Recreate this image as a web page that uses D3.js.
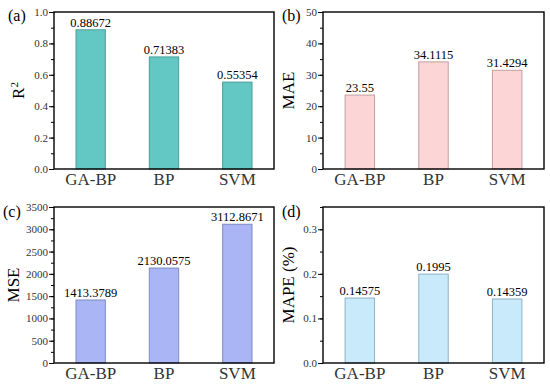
<!DOCTYPE html>
<html>
<head>
    <meta charset="utf-8">
    <style>
        body { margin: 0; background: #fff; }
        text { font-family: "Liberation Serif", "Times New Roman", serif; }
        .tick text { font-size: 11px; fill: #333; }
    </style>
</head>
<body>
    <script src="https://d3js.org/d3.v7.min.js"></script>
    <script>
        // model names and the four error metrics
        var models = ["GA-BP", "BP", "SVM"];
        var r2 = [0.88672, 0.71383, 0.55354];
        var mae = [23.55, 34.1115, 31.4294];
        var mse = [1413.3789, 2130.0575, 3112.8671];
        var mape = [0.14575, 0.1995, 0.14359];

        var r2Labels = ["0.88672", "0.71383", "0.55354"];
        var maeLabels = ["23.55", "34.1115", "31.4294"];
        var mseLabels = ["1413.3789", "2130.0575", "3112.8671"];
        var mapeLabels = ["0.14575", "0.1995", "0.14359"];

        var serif = "Liberation Serif, Times New Roman, serif";

        var svg = d3.select("body").append("svg")
            .attr("width", 550)
            .attr("height", 387);

        function panel(opt) {
            var x = d3.scaleBand().domain(models).range([opt.left, opt.right]);
            var y = d3.scaleLinear().domain([0, opt.max]).range([opt.bottom, opt.top]);
            var g = svg.append("g");

            var bw = x.bandwidth() * 0.4;
            g.selectAll("rect.bar")
                .data(opt.values)
                .enter().append("rect")
                .attr("class", "bar")
                .attr("x", function (d, i) { return x(models[i]) + x.bandwidth() / 2 - bw / 2; })
                .attr("y", function (d) { return y(d); })
                .attr("width", bw)
                .attr("height", function (d) { return opt.bottom - y(d); })
                .attr("fill", opt.fill)
                .attr("stroke", opt.stroke)
                .attr("stroke-width", 1);

            g.selectAll("text.val")
                .data(opt.values)
                .enter().append("text")
                .attr("class", "val")
                .attr("x", function (d, i) { return x(models[i]) + x.bandwidth() / 2; })
                .attr("y", function (d) { return y(d) - 3; })
                .attr("text-anchor", "middle")
                .style("font-size", "12.5px")
                .text(function (d, i) { return opt.labels[i]; });

            // minor ticks first, then labelled major ones
            g.append("g")
                .attr("transform", "translate(" + opt.left + ",0)")
                .call(d3.axisLeft(y).tickValues(d3.range(0, opt.max + 1e-9, opt.minor)).tickSize(3).tickFormat(""))
                .call(function (a) { a.select(".domain").remove(); a.selectAll("line").attr("stroke", "#000"); });

            g.append("g")
                .attr("transform", "translate(" + opt.left + ",0)")
                .call(d3.axisLeft(y).tickValues(d3.range(0, opt.max + 1e-9, opt.step)).tickSize(5).tickPadding(1).tickFormat(opt.fmt))
                .attr("font-family", serif)
                .call(function (a) { a.select(".domain").remove(); a.selectAll("line").attr("stroke", "#000"); });

            g.append("g")
                .attr("transform", "translate(0," + opt.bottom + ")")
                .call(d3.axisBottom(x).tickSize(0).tickPadding(4))
                .attr("font-family", serif)
                .call(function (a) {
                    a.select(".domain").remove();
                    a.selectAll("text").style("font-size", "17px").attr("fill", "#000");
                });

            // box frame
            g.append("rect")
                .attr("x", opt.left)
                .attr("y", opt.top)
                .attr("width", opt.right - opt.left)
                .attr("height", opt.bottom - opt.top)
                .attr("fill", "none")
                .attr("stroke", "#000")
                .attr("stroke-width", 1.4);

            var title = g.append("text")
                .attr("transform", "translate(" + opt.titleX + "," + ((opt.top + opt.bottom) / 2) + ") rotate(-90)")
                .attr("text-anchor", "middle")
                .style("font-size", "17px");
            title.append("tspan").text(opt.title);
            if (opt.sup) {
                title.append("tspan").attr("dy", -6).style("font-size", "11px").text(opt.sup);
            }

            g.append("text")
                .attr("x", opt.tagX)
                .attr("y", opt.tagY)
                .style("font-size", "16px")
                .text(opt.tag);
        }

        panel({ left: 54, right: 274, top: 12, bottom: 169, max: 1.0, step: 0.2, minor: 0.1,
            fmt: d3.format(".1f"), values: r2, labels: r2Labels, fill: "#63c7c4", stroke: "#4a9e9b",
            title: "R", sup: "2", titleX: 24, tag: "(a)", tagX: 8, tagY: 21 });

        panel({ left: 323, right: 544, top: 12, bottom: 169, max: 50, step: 10, minor: 5,
            fmt: d3.format("d"), values: mae, labels: maeLabels, fill: "#fcd6d6", stroke: "#c49e9e",
            title: "MAE", titleX: 294, tag: "(b)", tagX: 282, tagY: 21 });

        panel({ left: 54, right: 274, top: 207, bottom: 363, max: 3500, step: 500, minor: 250,
            fmt: d3.format("d"), values: mse, labels: mseLabels, fill: "#aab5f6", stroke: "#7f89c2",
            title: "MSE", titleX: 19, tag: "(c)", tagX: 3, tagY: 217 });

        panel({ left: 323, right: 544, top: 207, bottom: 363, max: 0.35, step: 0.1, minor: 0.05,
            fmt: d3.format(".1f"), values: mape, labels: mapeLabels, fill: "#c8eafb", stroke: "#8db3c4",
            title: "MAPE (%)", titleX: 294, tag: "(d)", tagX: 282, tagY: 217 });
    </script>
</body>
</html>
